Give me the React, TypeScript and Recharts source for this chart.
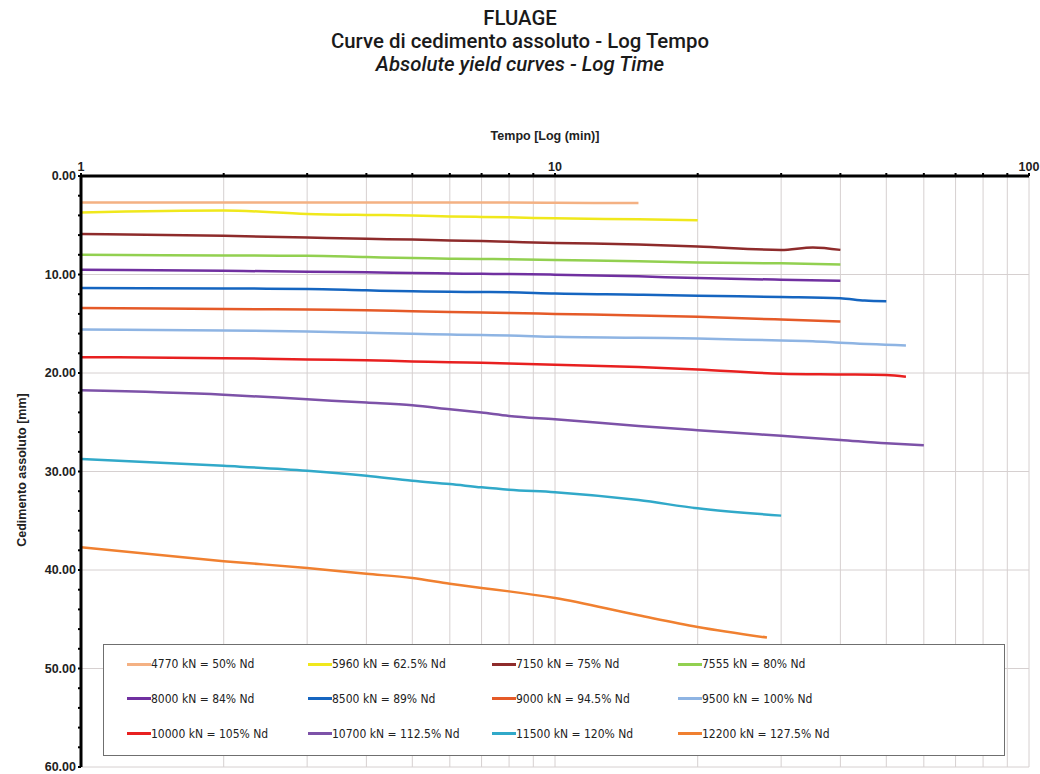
import React from 'react';
import {
  LineChart,
  Line,
  XAxis,
  YAxis,
  CartesianGrid,
} from 'recharts';

const _ = null;

// reading times [min]
const TIMES = [1, 2, 3, 4, 5, 6, 7, 8, 10, 15, 20, 28, 30, 35, 40, 45, 50, 55, 60];

// settlement [mm] per load step, null = no reading
const S4770 = [2.7, 2.7, 2.7, 2.7, 2.7, 2.7, 2.7, 2.7, 2.72, 2.75, _, _, _, _, _, _, _, _, _];
const S5960 = [3.7, 3.5, 3.85, 3.95, 4.0, 4.1, 4.15, 4.2, 4.3, 4.4, 4.5, _, _, _, _, _, _, _, _];
const S7150 = [5.9, 6.07, 6.24, 6.38, 6.45, 6.55, 6.6, 6.68, 6.8, 6.95, 7.15, _, 7.5, 7.25, 7.5, _, _, _, _];
const S7555 = [8.0, 8.07, 8.1, 8.23, 8.33, 8.4, 8.43, 8.45, 8.53, 8.65, 8.77, _, 8.87, _, 8.98, _, _, _, _];
const S8000 = [9.51, 9.62, 9.72, 9.78, 9.85, 9.9, 9.93, 9.95, 10.02, 10.19, 10.36, _, 10.53, _, 10.63, _, _, _, _];
const S8500 = [11.37, 11.42, 11.47, 11.61, 11.71, 11.75, 11.78, 11.81, 11.94, 12.05, 12.15, _, 12.28, _, 12.41, 12.65, 12.72, _, _];
const S9000 = [13.39, 13.5, 13.56, 13.63, 13.73, 13.8, 13.85, 13.9, 14.0, 14.15, 14.3, _, 14.57, _, 14.78, _, _, _, _];
const S9500 = [15.59, 15.69, 15.79, 15.92, 16.02, 16.1, 16.15, 16.19, 16.33, 16.42, 16.5, _, 16.7, 16.77, 16.93, _, _, 17.2, _];
const S10000 = [18.39, 18.49, 18.62, 18.7, 18.83, 18.9, 18.97, 19.03, 19.15, 19.4, 19.64, _, 20.07, _, 20.14, _, 20.2, 20.37, _];
const S10700 = [21.76, 22.2, 22.67, 23.0, 23.28, 23.68, 24.02, 24.36, 24.7, 25.37, 25.8, _, 26.38, _, 26.79, _, 27.13, _, 27.33];
const S11500 = [28.74, 29.42, 29.92, 30.43, 30.94, 31.27, 31.61, 31.85, 32.1, 32.9, 33.74, _, 34.48, _, _, _, _, _, _];
const S12200 = [37.69, 39.1, 39.8, 40.38, 40.82, 41.4, 41.83, 42.17, 42.85, 44.6, 45.78, 46.86, _, _, _, _, _, _, _];

const NAMES = [
  '4770 kN = 50% Nd',
  '5960 kN = 62.5% Nd',
  '7150 kN = 75% Nd',
  '7555 kN = 80% Nd',
  '8000 kN = 84% Nd',
  '8500 kN = 89% Nd',
  '9000 kN = 94.5% Nd',
  '9500 kN = 100% Nd',
  '10000 kN = 105% Nd',
  '10700 kN = 112.5% Nd',
  '11500 kN = 120% Nd',
  '12200 kN = 127.5% Nd',
];

const VALUES = [S4770, S5960, S7150, S7555, S8000, S8500, S9000, S9500, S10000, S10700, S11500, S12200];

const COLORS = [
  '#F4B183', '#F0E81C', '#8E2B2B', '#92D050',
  '#7030A0', '#1565C0', '#E55A28', '#8EB4E3',
  '#E82020', '#7D52A8', '#31A9C9', '#F08030',
];

const X_TICKS = [1, 2, 3, 4, 5, 6, 7, 8, 9, 10, 20, 30, 40, 50, 60, 70, 80, 90, 100];
const X_LABELS = [1, 10, 100];
const Y_TICKS = Array.from({ length: 31 }, (_v, i) => i * 2);
const Y_GRID = [10, 20, 30, 40, 50, 60];

const data = TIMES.map((t, i) => {
  const row: Record<string, number | null> = { t };
  VALUES.forEach((arr, k) => { row[`s${k}`] = arr[i]; });
  return row;
});

const titleFont = "Roboto, 'DejaVu Sans Condensed', sans-serif";
const narrow = "'DejaVu Sans Condensed', Roboto, sans-serif";
const bold = "'Liberation Sans', Arial, sans-serif";

function LegendBox() {
  return (
    <div style={{
      position: 'absolute', left: 103, top: 644, width: 902, height: 112, background: '#fff',
      border: '1px solid #6f6f6f', boxSizing: 'border-box', display: 'grid',
      gridTemplateColumns: '181px 184px 186px 1fr', gridTemplateRows: 'repeat(3, 1fr)',
      padding: '2px 0 4px 23px', alignItems: 'center',
    }}>
      {NAMES.map((n, i) => (
        <div key={n} style={{ display: 'flex', alignItems: 'center', fontFamily: narrow, fontSize: 12, color: '#222' }}>
          <span style={{ display: 'inline-block', width: 24, height: 3, background: COLORS[i] }} />
          <span>{n}</span>
        </div>
      ))}
    </div>
  );
}

export default function App() {
  return (
    <div style={{ position: 'absolute', left: 0, top: 0, width: 1040, height: 774, background: '#fff', overflow: 'hidden' }}>
      <div style={{
        position: 'absolute', left: 0, top: 7, width: 1040, textAlign: 'center', fontFamily: titleFont,
        fontWeight: 500, color: '#1a1a1a', fontSize: 21, lineHeight: '23px', transform: 'scaleX(0.97)',
      }}>
        <div>FLUAGE</div>
        <div>Curve di cedimento assoluto - Log Tempo</div>
        <div style={{ fontStyle: 'italic' }}>Absolute yield curves - Log Time</div>
      </div>
      <div style={{ position: 'absolute', left: 445, top: 129, width: 200, textAlign: 'center', fontFamily: bold, fontWeight: 700, fontSize: 12.5, color: '#222' }}>
        Tempo [Log (min)]
      </div>
      <div style={{
        position: 'absolute', left: 22, top: 470, fontFamily: bold, fontWeight: 700, fontSize: 12.5, color: '#222',
        transform: 'translate(-50%, -50%) rotate(-90deg)', whiteSpace: 'nowrap',
      }}>
        Cedimento assoluto [mm]
      </div>
      <div style={{ position: 'absolute', left: 0, top: 0 }}>
        <LineChart width={1040} height={774} data={data} margin={{ top: 146, right: 11, bottom: 7, left: 0 }}>
          <CartesianGrid
            stroke="#d6d0d0"
            strokeWidth={1}
            horizontalValues={Y_GRID}
            verticalValues={X_TICKS}
          />
          <XAxis
            dataKey="t"
            type="number"
            scale="log"
            domain={[1, 100]}
            ticks={X_TICKS}
            orientation="top"
            height={30}
            allowDataOverflow
            interval={0}
            tickFormatter={(v: number) => (X_LABELS.includes(v) ? String(v) : '')}
            tick={{ fill: '#222', fontSize: 12.5, fontWeight: 700, fontFamily: bold }}
            axisLine={{ stroke: '#000', strokeWidth: 3 }}
            tickLine={{ stroke: '#000', strokeWidth: 2 }}
            tickSize={3}
          />
          <YAxis
            type="number"
            reversed
            domain={[0, 60]}
            ticks={Y_TICKS}
            interval={0}
            width={81}
            tickFormatter={(v: number) => (v % 10 === 0 ? v.toFixed(2) : '')}
            tick={{ fill: '#222', fontSize: 12.5, fontWeight: 700, fontFamily: bold }}
            axisLine={{ stroke: '#000', strokeWidth: 3 }}
            tickLine={{ stroke: '#000', strokeWidth: 2 }}
            tickSize={3}
          />
          {NAMES.map((n, k) => (
            <Line
              key={n}
              name={n}
              dataKey={`s${k}`}
              type="monotone"
              stroke={COLORS[k]}
              strokeWidth={2.5}
              dot={false}
              connectNulls
              isAnimationActive={false}
            />
          ))}
        </LineChart>
      </div>
      <LegendBox />
    </div>
  );
}
